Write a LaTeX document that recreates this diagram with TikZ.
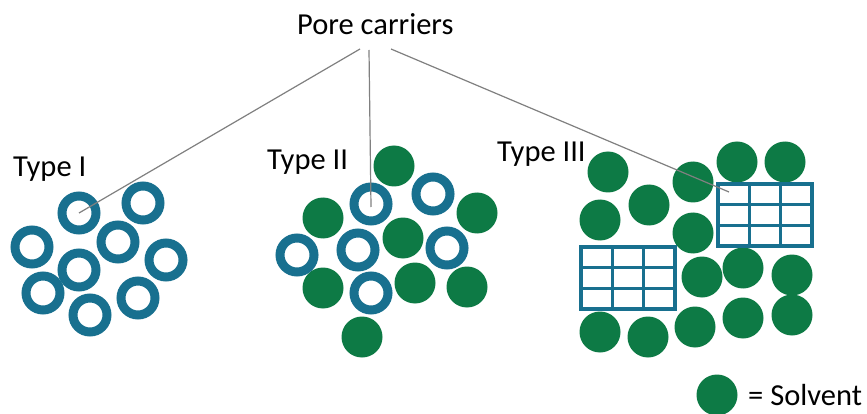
\documentclass[tikz,border=0pt]{standalone}
\usepackage{fontspec}
\setmainfont{Carlito}
\definecolor{carrier}{HTML}{18708F}
\definecolor{solvent}{HTML}{0D7A45}
\definecolor{link}{HTML}{808080}
\begin{document}
\begin{tikzpicture}[x=1pt,y=-1pt,
  ring/.style={circle,draw=carrier,line width=9pt,minimum size=34pt,inner sep=0pt},
  drop/.style={circle,fill=solvent,minimum size=41pt,inner sep=0pt},
  label/.style={anchor=base west,inner sep=0pt,font=\fontsize{30.5}{36}\selectfont},
  link/.style={draw=link,line width=1.2pt},
  mesh/.style={draw=carrier,line width=3.3pt}]
\useasboundingbox[fill=white] (0,0) rectangle (867,414);

% title and branch origins
\node[label] (title) at (297,35) {Pore carriers};
\coordinate (o1) at (360,49);
\coordinate (o2) at (369,50);
\coordinate (o3) at (391,49);

% Type I: carriers only
\node[label] (t1) at (13,177) {Type I};
\foreach \n/\x/\y in {a/79/213,b/143/203,c/32/247,d/118/242,e/79/270,
                      f/166/260,g/43/293,h/138/298,i/90/315}
  \node[ring] (r1\n) at (\x,\y) {};

% Type II: carriers mixed with solvent
\node[label] (t2) at (267,170) {Type II};
\foreach \n/\x/\y in {a/394/166,b/323/218,c/477/213,d/403/238,
                      e/323/288,f/415/283,g/467/287,h/362/337}
  \node[drop] (s2\n) at (\x,\y) {};
\foreach \n/\x/\y in {a/371/204,b/433/194,c/297/255,d/358/250,
                      e/447/248,f/371/293}
  \node[ring] (r2\n) at (\x,\y) {};

% Type III: framework blocks in solvent
\node[label] (t3) at (497,162) {Type III};
\foreach \n/\x/\y in {a/608/172,b/737/162,c/785/162,d/693/182,e/649/205,
                      f/600/220,g/693/233,h/702/277,i/743/268,j/792/275,
                      k/600/332,l/648/337,m/695/327,n/743/318,o/792/315}
  \node[drop] (s3\n) at (\x,\y) {};
% framework grids
\foreach \gx/\gy/\gn in {718/184/A,581/247/B}{
  \fill[white] (\gx,\gy) rectangle ++(94,62);
  \draw[mesh] (\gx,\gy) rectangle ++(94,62);
  \foreach \k in {1,2}{
    \draw[mesh] (\gx+\k*94/3,\gy) -- ++(0,62);
    \draw[mesh] (\gx,\gy+\k*62/3) -- ++(94,0);
  }
  \coordinate (g\gn) at (\gx+11,\gy+8);
}

% branches
\draw[link] (o1) -- (r1a.center);
\draw[link] (o2) -- ([yshift=-3pt]r2a.center);
\draw[link] (o3) -- (gA);

% legend
\node[drop] (key) at (717,395) {};
\node[label] (keytext) at (748,405) {= Solvent};
\end{tikzpicture}
\end{document}
